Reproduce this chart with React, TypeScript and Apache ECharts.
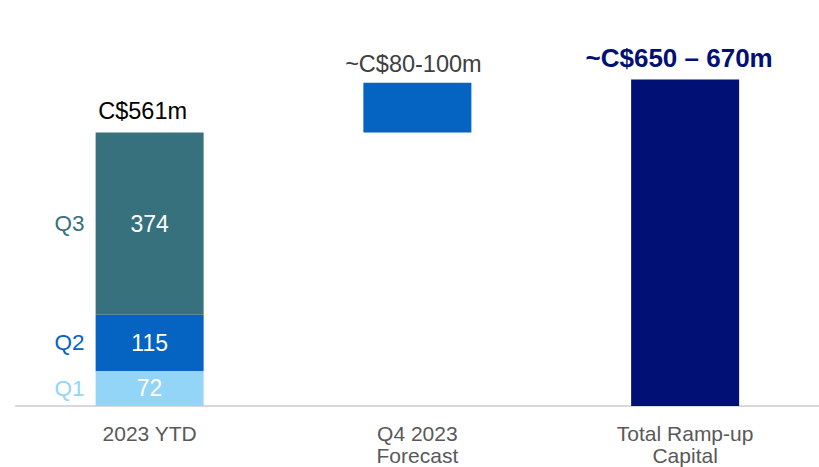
import React, { useEffect, useRef } from "react";
import * as echarts from "echarts";

const categories = ["2023 YTD", "Q4 2023\nForecast", "Total Ramp-up\nCapital"];
const q1Values = [72, "-", "-"];
const q2Values = [115, "-", "-"];
const q3Values = [374, "-", "-"];
const forecastBase = ["-", 561, "-"];
const forecastRange = ["-", 102, "-"];
const totalCapital = ["-", "-", 670];
const ytdTotal = [561, "-", "-"];
const quarterNames = ["Q1", "Q2", "Q3"];
const ytdLabel = "C$561m";
const forecastLabel = "~C$80-100m";
const totalLabel = "~C$650 \u2013 670m";

const FONT = "'Liberation Sans', Arial, sans-serif";
const COLORS = { q1: "#92D5F6", q2: "#0563C1", q3: "#37717E", forecast: "#0563C1", total: "#001075" };

export default function App() {
  const ref = useRef<HTMLDivElement>(null);
  useEffect(() => {
    if (!ref.current) return;
    const chart = echarts.init(ref.current, null, { renderer: "svg" });
    const BW = 108;
    const quarterSeries = [q1Values, q2Values, q3Values];
    const qColors = [COLORS.q1, COLORS.q2, COLORS.q3];
    const series: any[] = [];
    quarterSeries.forEach((vals, i) => {
      series.push({
        type: "bar", stack: "a", data: vals, barWidth: BW, barGap: "-100%", silent: true,
        itemStyle: { color: qColors[i] },
        label: { show: true, position: "inside", color: "#fff", fontSize: 23, fontFamily: FONT },
      });
    });
    series.push({
      type: "bar", stack: "a", data: forecastBase, barWidth: BW, barGap: "-100%", silent: true,
      itemStyle: { color: "transparent" },
    });
    series.push({
      type: "bar", stack: "a", data: forecastRange, barWidth: BW, barGap: "-100%", silent: true,
      itemStyle: { color: COLORS.forecast },
      label: { show: true, position: "top", distance: 7, offset: [-4, 0], formatter: forecastLabel, color: "#404040", fontSize: 23.5, fontFamily: FONT },
    });
    series.push({
      type: "bar", stack: "a", data: totalCapital, barWidth: BW, barGap: "-100%", silent: true,
      itemStyle: { color: COLORS.total },
      label: { show: true, position: "top", distance: 8, offset: [-6, 0], formatter: totalLabel, color: COLORS.total, fontSize: 26, fontWeight: "bold", fontFamily: FONT },
    });
    quarterSeries.forEach((vals, i) => {
      series.push({
        type: "bar", stack: "b", data: vals, barWidth: BW, barGap: "-100%", silent: true,
        itemStyle: { color: "transparent" },
        label: { show: true, position: "left", distance: 11, formatter: quarterNames[i], color: qColors[i], fontSize: 22.5, fontFamily: FONT },
      });
    });
    series.push({
      type: "bar", data: ytdTotal, barWidth: BW, barGap: "-100%", silent: true,
      itemStyle: { color: "transparent" },
      label: { show: true, position: "top", distance: 10, offset: [-7, 0], formatter: ytdLabel, color: "#000", fontSize: 23.5, fontFamily: FONT },
    });

    chart.setOption({
      animation: false,
      grid: { left: 15.75, right: -2.5, top: 16, bottom: 58.5, containLabel: false },
      xAxis: {
        type: "category", data: categories,
        axisLine: { show: true, lineStyle: { color: "#D9D9D9", width: 2 } },
        axisTick: { show: false },
        axisLabel: { color: "#595959", fontSize: 21, lineHeight: 22.5, margin: 16, fontFamily: FONT, interval: 0 },
      },
      yAxis: { type: "value", min: 0, max: 800, show: false, splitLine: { show: false } },
      series,
    });
    return () => chart.dispose();
  }, []);
  return <div ref={ref} style={{ position: "fixed", left: 0, top: 0, width: 819, height: 467, background: "#fff" }} />;
}
